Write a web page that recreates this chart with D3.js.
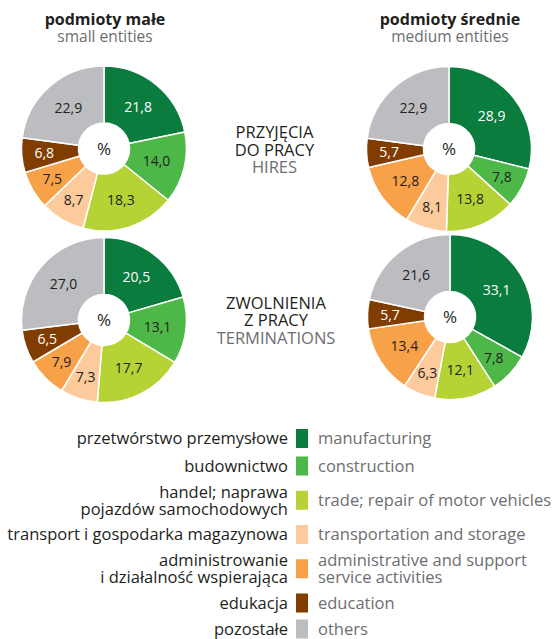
<!DOCTYPE html>
<html>
<head>
<meta charset="utf-8">
<script src="https://cdn.jsdelivr.net/npm/d3@7"></script>
<style>
  html, body { margin: 0; padding: 0; background: #fff; }
  svg { display: block; font-family: "Open Sans", "Noto Sans", sans-serif; }
</style>
</head>
<body>
<svg id="chart" width="553" height="639"></svg>
<script>
// kategorie (PL / EN)
const categoriesPL = [
  ["przetwórstwo przemysłowe"],
  ["budownictwo"],
  ["handel; naprawa", "pojazdów samochodowych"],
  ["transport i gospodarka magazynowa"],
  ["administrowanie", "i działalność wspierająca"],
  ["edukacja"],
  ["pozostałe"]
];
const categoriesEN = [
  ["manufacturing"],
  ["construction"],
  ["trade; repair of motor vehicles"],
  ["transportation and storage"],
  ["administrative and support", "service activities"],
  ["education"],
  ["others"]
];
const colors = ["#0a7c3e", "#4db848", "#b5d334", "#fdcb9b", "#f7a148", "#813d00", "#bcbdc0"];

// wartości w %
const hiresSmall = [21.8, 14.0, 18.3, 8.7, 7.5, 6.8, 22.9];
const hiresMedium = [28.9, 7.8, 13.8, 8.1, 12.8, 5.7, 22.9];
const termSmall = [20.5, 13.1, 17.7, 7.3, 7.9, 6.5, 27.0];
const termMedium = [33.1, 7.8, 12.1, 6.3, 13.4, 5.7, 21.6];

const svg = d3.select("#chart");
const dark = "#231f20", grey = "#6d6e71";

const outerR = 82.5, innerR = 25.5;
const pie = d3.pie().sort(null).value(d => d);
const arc = d3.arc().innerRadius(innerR).outerRadius(outerR);

function drawPie(values, cx, cy) {
  const g = svg.append("g").attr("transform", `translate(${cx},${cy})`);
  const arcs = pie(values);
  g.selectAll("path")
    .data(arcs)
    .join("path")
    .attr("d", arc)
    .attr("fill", (d, i) => colors[i])
    .attr("stroke", "#fff")
    .attr("stroke-width", 1.5)
    .attr("stroke-linejoin", "round");

  // etykiety - male wycinki troche dalej od srodka
  g.selectAll("text.val")
    .data(arcs)
    .join("text")
    .attr("class", "val")
    .attr("transform", d => {
      const r = d.data < 10 ? 60 : 54;
      const a = (d.startAngle + d.endAngle) / 2;
      return `translate(${r * Math.sin(a)},${-r * Math.cos(a)})`;
    })
    .attr("text-anchor", "middle")
    .attr("dy", "0.36em")
    .attr("font-size", 14)
    .attr("fill", (d, i) => (i === 0 || i === 5) ? "#fff" : dark)
    .text(d => d3.format(".1f")(d.data).replace(".", ","));

  g.append("text")
    .attr("text-anchor", "middle")
    .attr("dy", "0.36em")
    .attr("font-size", 17)
    .attr("fill", dark)
    .text("%");
}

drawPie(hiresSmall, 104, 148.5);
drawPie(hiresMedium, 449, 149);
drawPie(termSmall, 104, 320);
drawPie(termMedium, 450, 317);

// naglowki kolumn
function colTitle(x, pl, en) {
  svg.append("text").attr("x", x).attr("y", 25).attr("text-anchor", "middle")
    .attr("font-size", 16).attr("font-weight", "bold").attr("fill", dark).text(pl);
  svg.append("text").attr("x", x).attr("y", 42).attr("text-anchor", "middle")
    .attr("font-size", 15.5).attr("fill", grey).text(en);
}
colTitle(105, "podmioty małe", "small entities");
colTitle(450, "podmioty średnie", "medium entities");

// opisy wierszy - jeden element text, linie jako tspan
function rowTitle(x, y, lines, en) {
  const t = svg.append("text").attr("x", x).attr("y", y).attr("text-anchor", "middle")
    .attr("font-size", 16.5);
  lines.concat([en]).forEach((s, i) => {
    t.append("tspan")
      .attr("x", x)
      .attr("dy", i === 0 ? 0 : 17.5)
      .attr("fill", i < lines.length ? dark : grey)
      .text(s);
  });
}
rowTitle(274.5, 138, ["PRZYJĘCIA", "DO PRACY"], "HIRES");
rowTitle(276, 308.5, ["ZWOLNIENIA", "Z PRACY"], "TERMINATIONS");

// legenda
const legend = svg.append("g");
const rowH = n => n > 1 ? 41 : 27.5;
let yc = 438.5;
categoriesPL.forEach((pl, i) => {
  const n = Math.max(pl.length, categoriesEN[i].length);
  if (i > 0) {
    const prev = Math.max(categoriesPL[i - 1].length, categoriesEN[i - 1].length);
    yc += (rowH(prev) + rowH(n)) / 2;
  }
  if (i === categoriesPL.length - 1) yc -= 1.5;
  legend.append("rect")
    .attr("x", 296).attr("y", yc - 9.5)
    .attr("width", 12).attr("height", 19)
    .attr("fill", colors[i]);

  const drawLines = (lines, x, anchor, fill) => {
    const y0 = yc - (lines.length - 1) * 17 / 2;
    const t = legend.append("text")
      .attr("x", x).attr("y", y0)
      .attr("text-anchor", anchor)
      .attr("font-size", 16.5)
      .attr("fill", fill);
    lines.forEach((s, j) => {
      t.append("tspan")
        .attr("x", x)
        .attr("dy", j === 0 ? "0.35em" : 17)
        .text(s);
    });
  };
  drawLines(pl, 288, "end", dark);
  drawLines(categoriesEN[i], 318, "start", grey);
});
</script>
</body>
</html>
